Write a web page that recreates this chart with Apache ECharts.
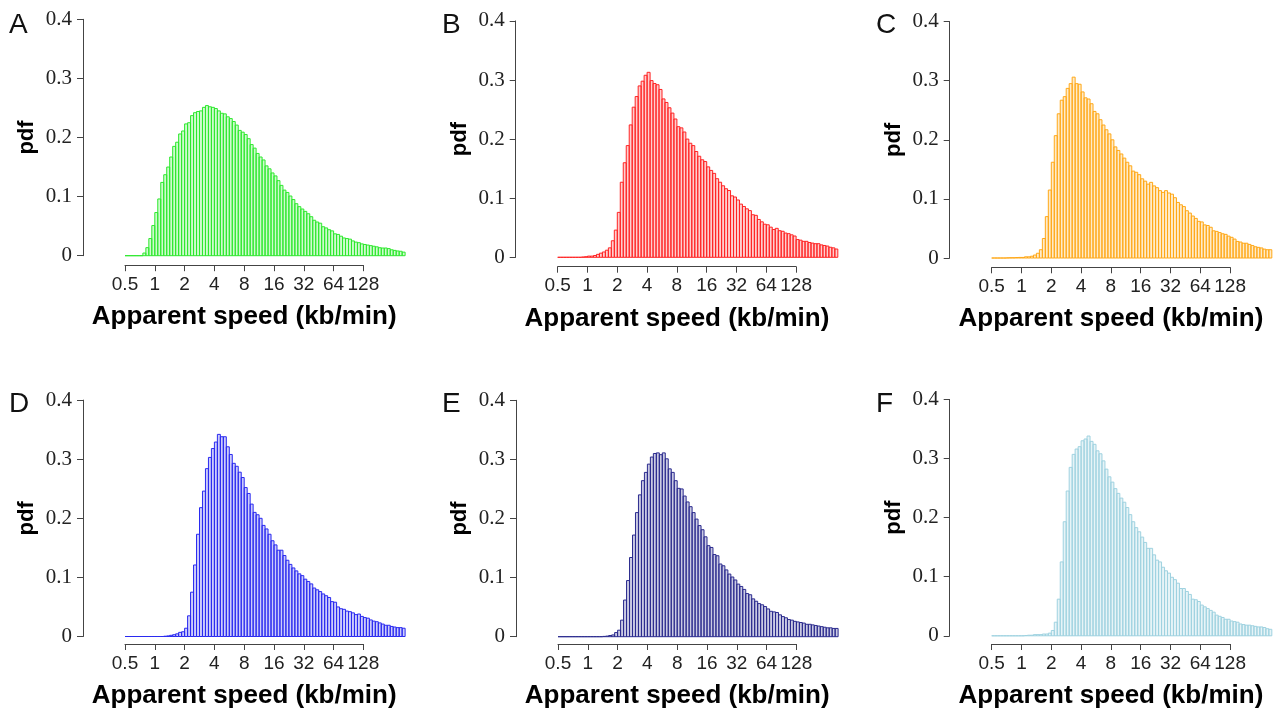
<!DOCTYPE html>
<html><head><meta charset="utf-8">
<script src="https://cdn.jsdelivr.net/npm/echarts@6/dist/echarts.min.js"></script>
<style>html,body{margin:0;padding:0;background:#fff}#chart{width:1284px;height:710px}</style>
</head><body><div id="chart"></div>
<script>
// ---- data ----
const BIN_START_LOG2 = -1;     // first bin starts at 0.5 kb/min
const BIN_WIDTH_LOG2 = 0.1;    // each bin is 0.1 in log2 units
const BIN_END_LOG2 = 8.4;
const tickLog2 = [-1, 0, 1, 2, 3, 4, 5, 6, 7];
const tickLabels = ['0.5', '1', '2', '4', '8', '16', '32', '64', '128'];
const yTickLabels = ['0', '0.1', '0.2', '0.3', '0.4'];
const panelLetters = ['A', 'B', 'C', 'D', 'E', 'F'];
const xTitle = 'Apparent speed (kb/min)';
const yTitle = 'pdf';

const pdfA = [0,0,0,0,0,0,0.0045,0.0136,0.029,0.051,
0.073,0.096,0.124,0.137,0.150,0.167,0.185,0.192,0.206,0.211,
0.223,0.225,0.237,0.242,0.244,0.245,0.251,0.254,0.252,0.251,
0.249,0.245,0.241,0.240,0.235,0.232,0.227,0.221,0.212,0.209,
0.205,0.198,0.188,0.182,0.173,0.167,0.162,0.152,0.147,0.140,
0.135,0.127,0.119,0.111,0.107,0.101,0.095,0.088,0.083,0.079,
0.075,0.071,0.066,0.060,0.057,0.055,0.049,0.047,0.044,0.042,
0.037,0.036,0.033,0.030,0.029,0.028,0.025,0.023,0.022,0.020,
0.019,0.018,0.017,0.016,0.015,0.0135,0.013,0.013,0.012,0.010,
0.009,0.008,0.0075,0.006];

const pdfB = [0,0,0,0,0,0,0,0,0.0005,0.001,
0.002,0.002,0.003,0.005,0.007,0.009,0.012,0.016,0.028,0.046,
0.076,0.127,0.160,0.189,0.224,0.254,0.272,0.290,0.298,0.308,
0.313,0.299,0.294,0.292,0.284,0.268,0.262,0.253,0.244,0.234,
0.221,0.219,0.212,0.200,0.193,0.189,0.179,0.171,0.165,0.162,
0.153,0.147,0.142,0.133,0.127,0.121,0.116,0.113,0.104,0.102,
0.097,0.090,0.086,0.082,0.079,0.072,0.071,0.064,0.060,0.056,
0.055,0.051,0.047,0.049,0.045,0.044,0.041,0.040,0.038,0.036,
0.030,0.029,0.027,0.027,0.025,0.024,0.023,0.023,0.021,0.020,
0.019,0.017,0.016,0.014];

const pdfC = [0,0,0,0,0,0.0003,0.0005,0.0005,0.0008,0.001,
0.001,0.002,0.002,0.003,0.005,0.008,0.014,0.033,0.070,0.115,
0.162,0.207,0.244,0.267,0.273,0.287,0.295,0.306,0.295,0.294,
0.281,0.271,0.269,0.261,0.248,0.244,0.234,0.225,0.217,0.210,
0.200,0.188,0.182,0.176,0.169,0.162,0.156,0.147,0.145,0.141,
0.134,0.130,0.125,0.128,0.122,0.119,0.114,0.111,0.114,0.110,
0.108,0.102,0.094,0.090,0.087,0.080,0.076,0.071,0.067,0.062,
0.061,0.056,0.055,0.052,0.046,0.045,0.043,0.041,0.040,0.037,
0.035,0.032,0.028,0.027,0.025,0.025,0.023,0.021,0.019,0.018,
0.017,0.015,0.014,0.014];

const pdfD = [0,0,0,0,0,0,0,0,0,0,
0,0,0,0.0005,0.001,0.002,0.003,0.0045,0.007,0.008,
0.014,0.035,0.075,0.121,0.173,0.218,0.246,0.284,0.303,0.318,
0.329,0.342,0.338,0.338,0.321,0.308,0.293,0.288,0.278,0.269,
0.252,0.242,0.224,0.210,0.206,0.200,0.188,0.182,0.173,0.162,
0.155,0.146,0.146,0.137,0.129,0.122,0.116,0.111,0.106,0.103,
0.097,0.093,0.089,0.082,0.079,0.076,0.072,0.069,0.066,0.059,
0.058,0.050,0.047,0.046,0.043,0.042,0.040,0.037,0.038,0.034,
0.032,0.031,0.028,0.026,0.025,0.023,0.021,0.019,0.019,0.017,
0.016,0.015,0.015,0.014];

const pdfE = [0,0,0,0,0,0,0,0,0,0,
0,0,0,0,0,0.0005,0.001,0.002,0.003,0.007,
0.011,0.028,0.062,0.095,0.134,0.172,0.210,0.240,0.264,0.278,
0.292,0.304,0.310,0.311,0.308,0.311,0.301,0.284,0.278,0.264,
0.251,0.250,0.238,0.228,0.220,0.210,0.199,0.188,0.181,0.169,
0.154,0.151,0.139,0.137,0.123,0.120,0.113,0.106,0.101,0.096,
0.089,0.085,0.080,0.073,0.071,0.064,0.060,0.056,0.054,0.051,
0.047,0.043,0.042,0.041,0.037,0.034,0.032,0.029,0.028,0.026,
0.025,0.024,0.023,0.021,0.021,0.020,0.019,0.018,0.017,0.016,
0.015,0.015,0.014,0.014];

const pdfF = [0,0,0,0,0,0,0,0,0,0,
0,0.0005,0.001,0.001,0.002,0.002,0.002,0.003,0.003,0.0045,
0.009,0.023,0.062,0.125,0.193,0.245,0.285,0.307,0.316,0.320,
0.330,0.333,0.338,0.329,0.324,0.313,0.308,0.296,0.282,0.269,
0.260,0.249,0.241,0.233,0.226,0.217,0.205,0.193,0.183,0.176,
0.167,0.158,0.148,0.148,0.137,0.128,0.125,0.116,0.110,0.106,
0.099,0.095,0.089,0.080,0.080,0.075,0.070,0.062,0.061,0.058,
0.052,0.049,0.046,0.043,0.040,0.035,0.033,0.031,0.028,0.028,
0.025,0.024,0.023,0.020,0.019,0.018,0.018,0.017,0.016,0.015,
0.015,0.014,0.012,0.011];

// ---- layout / style ----
const panels = [
  {data: pdfA, x0: 125,   base: 255.7, axisY: 265.2, stroke: '#2ee82e', fill: 'rgba(60,240,60,0.25)'},
  {data: pdfB, x0: 557.7, base: 257.3, axisY: 266.7, stroke: '#ff2424', fill: 'rgba(255,60,60,0.25)'},
  {data: pdfC, x0: 991.7, base: 258.0, axisY: 267.3, stroke: '#ffa818', fill: 'rgba(255,175,40,0.25)'},
  {data: pdfD, x0: 125,   base: 636.5, axisY: 645.8, stroke: '#2a2af0', fill: 'rgba(50,50,240,0.25)'},
  {data: pdfE, x0: 558,   base: 636.7, axisY: 645.8, stroke: '#2b2b8e', fill: 'rgba(45,45,145,0.25)'},
  {data: pdfF, x0: 991.7, base: 635.8, axisY: 645.8, stroke: '#9fd2e0', fill: 'rgba(160,210,225,0.25)'}
];
const letterPos = [[9, 33], [442, 33], [876, 33], [9, 412], [442, 412], [876, 412]];
const PX_PER_OCT = 29.8;
const PX_PER_UNIT = 591;
const AXIS_COLOR = '#444';
const SANS = '"Liberation Sans", Arial, sans-serif';
const SERIF = '"Liberation Serif", "Times New Roman", serif';

const grid = [], xAxis = [], yAxis = [], series = [], graphic = [];
panels.forEach((p, k) => {
  const h = 0.4 * PX_PER_UNIT;
  // bars grid
  grid.push({left: p.x0, top: p.base - h, width: (BIN_END_LOG2 - BIN_START_LOG2) * PX_PER_OCT, height: h});
  xAxis.push({gridIndex: 2 * k, type: 'value', min: BIN_START_LOG2, max: BIN_END_LOG2, show: false});
  yAxis.push({
    gridIndex: 2 * k, type: 'value', min: 0, max: 0.4, interval: 0.1, offset: 42, position: 'left',
    axisLine: {show: true, onZero: false, lineStyle: {color: AXIS_COLOR, width: 1}},
    axisTick: {show: true, length: 6, lineStyle: {color: AXIS_COLOR}},
    splitLine: {show: false},
    axisLabel: {fontFamily: SERIF, fontSize: 21, color: '#222', margin: 11,
      formatter: v => yTickLabels[Math.round(v * 10)]},
    name: yTitle, nameLocation: 'middle', nameGap: 45,
    nameTextStyle: {fontFamily: SANS, fontWeight: 'bold', fontSize: 22, color: '#000'}
  });
  // axis display grid (R-style axis spanning 0.5 .. 128 only)
  grid.push({left: p.x0, top: p.axisY - 10, width: (tickLog2[tickLog2.length - 1] - tickLog2[0]) * PX_PER_OCT, height: 10});
  xAxis.push({
    gridIndex: 2 * k + 1, type: 'value', min: tickLog2[0], max: tickLog2[tickLog2.length - 1], interval: 1,
    position: 'bottom',
    axisLine: {show: true, onZero: false, lineStyle: {color: AXIS_COLOR, width: 1}},
    axisTick: {show: true, length: 6, lineStyle: {color: AXIS_COLOR}},
    splitLine: {show: false},
    axisLabel: {fontFamily: SANS, fontSize: 19, color: '#222', margin: 10,
      formatter: v => tickLabels[tickLog2.indexOf(Math.round(v))]},
    name: xTitle, nameLocation: 'middle', nameGap: 39,
    nameTextStyle: {fontFamily: SANS, fontWeight: 'bold', fontSize: 26, color: '#000'}
  });
  yAxis.push({gridIndex: 2 * k + 1, type: 'value', min: 0, max: 1, show: false});

  const items = p.data.map((v, i) => [BIN_START_LOG2 + i * BIN_WIDTH_LOG2, v]);
  series.push({
    type: 'custom', xAxisIndex: 2 * k, yAxisIndex: 2 * k, data: items, silent: true,
    renderItem: (params, api) => {
      const x = api.value(0), v = api.value(1);
      const a = api.coord([x, 0]);
      const b = api.coord([x + BIN_WIDTH_LOG2, v]);
      return {type: 'rect',
        shape: {x: a[0], y: b[1], width: b[0] - a[0], height: a[1] - b[1]},
        style: {fill: p.fill, stroke: p.stroke, lineWidth: 1}};
    }
  });
  graphic.push({type: 'text', left: letterPos[k][0], top: letterPos[k][1] - 22,
    style: {text: panelLetters[k], font: '28px ' + SANS, fill: '#111'}});
});

const chart = echarts.init(document.getElementById('chart'), null, {renderer: 'canvas'});
chart.setOption({animation: false, backgroundColor: '#fff', grid, xAxis, yAxis, series, graphic});
</script></body></html>
